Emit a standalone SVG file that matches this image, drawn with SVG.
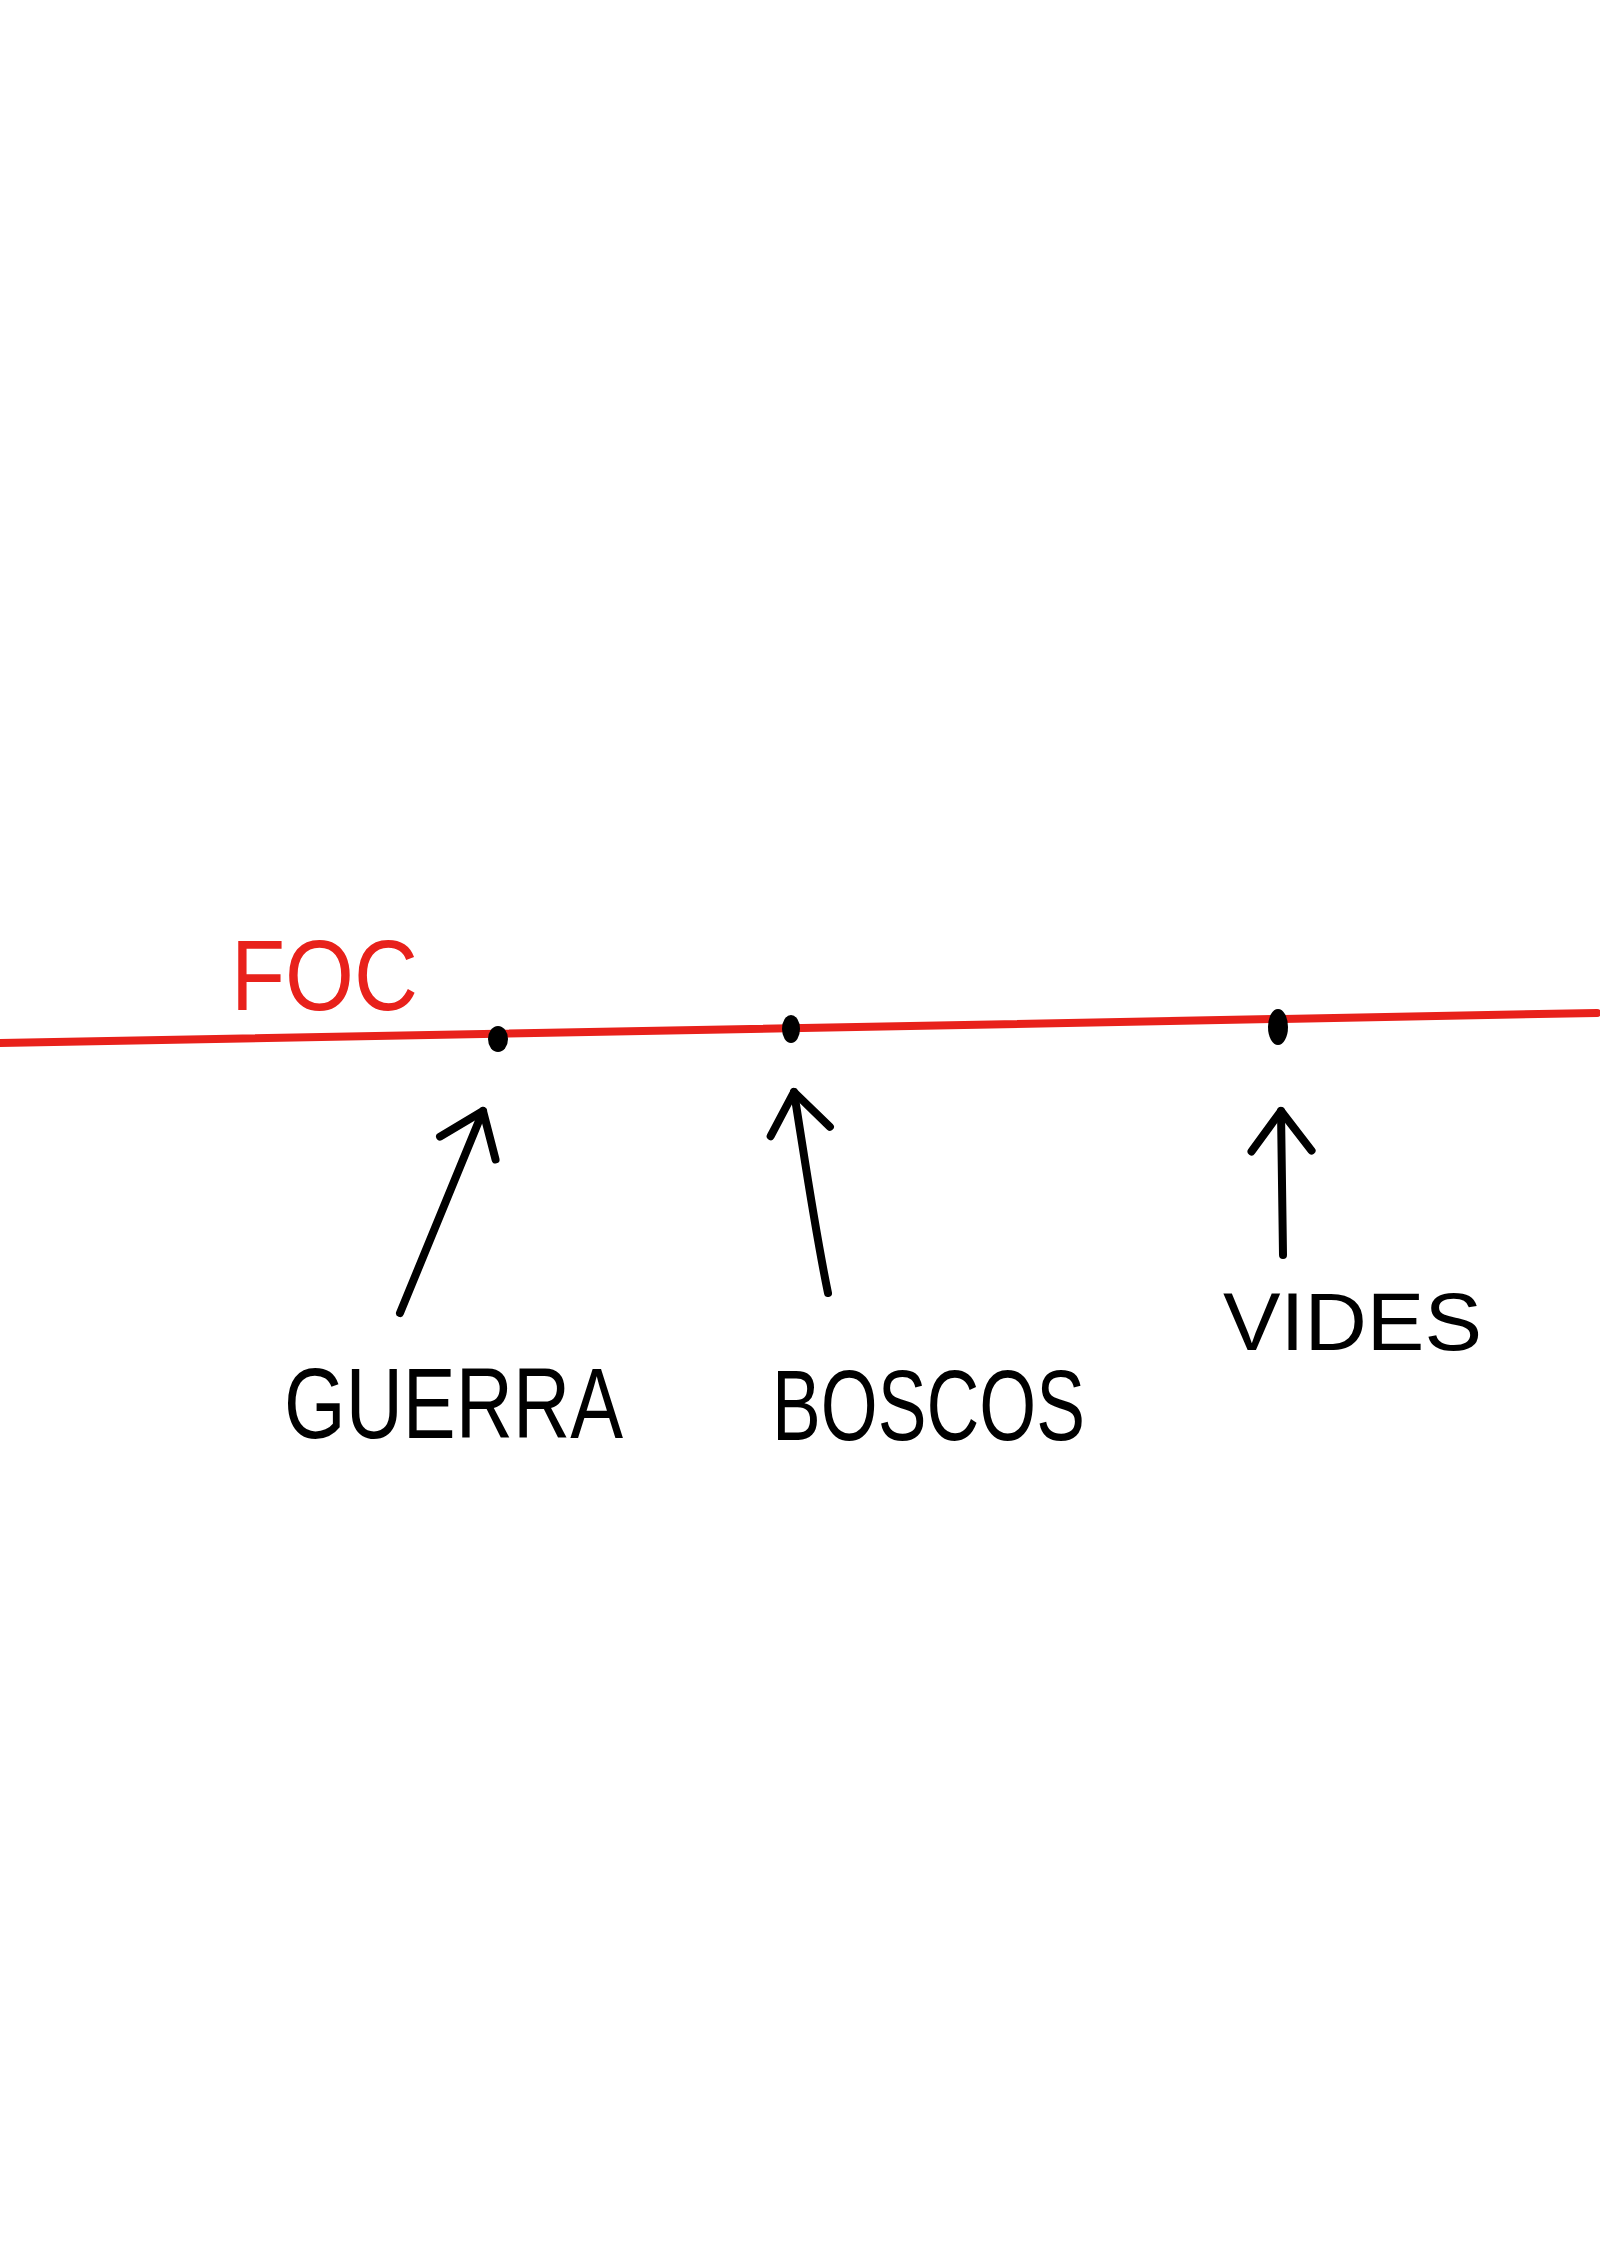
<svg xmlns="http://www.w3.org/2000/svg" width="1600" height="2263" viewBox="0 0 1600 2263">
  <style>
    .ink { fill: none; stroke: #000; stroke-width: 8; stroke-linecap: round; stroke-linejoin: round; }
    .lbl { font-family: "Liberation Sans", "DejaVu Sans", sans-serif; fill: #000; }
    .red { fill: #e8211b; }
    .dot { fill: #000; }
  </style>
  <defs>
    <marker id="head" markerUnits="userSpaceOnUse" markerWidth="100" markerHeight="100" refX="0" refY="0" viewBox="-50 -50 100 100" orient="auto" overflow="visible">
      <path d="M -40 -30 L 0 0 L -40 30" fill="none" stroke="#000" stroke-width="8" stroke-linecap="round" stroke-linejoin="round"/>
    </marker>
  </defs>
  <rect width="1600" height="2263" fill="#fff"/>

  <g id="foc">
    <line x1="0" y1="1043" x2="1597" y2="1013" stroke="#e8211b" stroke-width="8" stroke-linecap="round"/>
    <text class="lbl red" x="231" y="1010" font-size="100" textLength="187" lengthAdjust="spacingAndGlyphs">FOC</text>
  </g>

  <g id="point-guerra">
    <ellipse class="dot" cx="498" cy="1039" rx="10" ry="13"/>
  </g>
  <g id="point-boscos">
    <ellipse class="dot" cx="791" cy="1029" rx="9" ry="14"/>
  </g>
  <g id="point-vides">
    <ellipse class="dot" cx="1278" cy="1027" rx="10" ry="18"/>
  </g>

  <g id="label-guerra">
    <text class="lbl" x="284" y="1438" font-size="100" textLength="339" lengthAdjust="spacingAndGlyphs">GUERRA</text>
  </g>
  <g id="label-boscos">
    <text class="lbl" x="772" y="1440" font-size="100" textLength="313" lengthAdjust="spacingAndGlyphs">BOSCOS</text>
  </g>
  <g id="label-vides">
    <text class="lbl" x="1223" y="1350" font-size="82" textLength="259" lengthAdjust="spacingAndGlyphs">VIDES</text>
  </g>

  <g id="connectors">
    <path class="ink" d="M 400 1313 L 483 1111" marker-end="url(#head)"/>
    <path class="ink" d="M 828 1293 C 815 1230 808 1180 794 1092" marker-end="url(#head)"/>
    <path class="ink" d="M 1283 1255 L 1281 1111" marker-end="url(#head)"/>
  </g>
</svg>
